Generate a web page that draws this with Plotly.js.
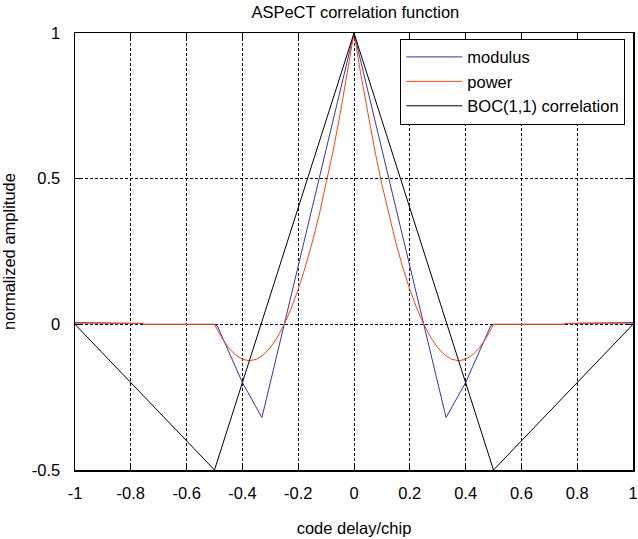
<!DOCTYPE html>
<html>
<head>
<meta charset="utf-8">
<script src="https://cdn.plot.ly/plotly-3.0.1.min.js"></script>
<style>html,body{margin:0;padding:0;background:#fff;}</style>
</head>
<body>
<div id="chart" style="width:638px;height:539px;"></div>
<script>
// ---- data ----
var bocX = [-1, -0.9, -0.8, -0.7, -0.6, -0.5, -0.4, -0.3, -0.2, -0.1, 0, 0.1, 0.2, 0.3, 0.4, 0.5, 0.6, 0.7, 0.8, 0.9, 1];
var bocY = [0, -0.1, -0.2, -0.3, -0.4, -0.5, -0.2, 0.1, 0.4, 0.7, 1, 0.7, 0.4, 0.1, -0.2, -0.5, -0.4, -0.3, -0.2, -0.1, 0];

var modX = [-1, -0.76, -0.75, -0.5, -0.49, -0.4, -0.33, -0.25, 0, 0.25, 0.33, 0.4, 0.49, 0.5, 0.75, 0.76, 1];
var modY = [0.006, 0.003, 0, 0, -0.005, -0.2, -0.32, 0, 1, 0, -0.32, -0.2, -0.005, 0, 0, 0.003, 0.006];

var powX = [-1, -0.76, -0.75, -0.5, -0.475, -0.45, -0.425, -0.4, -0.375, -0.35, -0.325, -0.3, -0.275, -0.25,
            -0.225, -0.2, -0.175, -0.15, -0.125, -0.1, -0.075, -0.05, -0.025, 0,
            0.025, 0.05, 0.075, 0.1, 0.125, 0.15, 0.175, 0.2, 0.225,
            0.25, 0.275, 0.3, 0.325, 0.35, 0.375, 0.4, 0.425, 0.45, 0.475, 0.5, 0.75, 0.76, 1];
var powY = [0.004, 0.003, 0, 0, -0.045, -0.08, -0.105, -0.12, -0.125, -0.12, -0.105, -0.08, -0.045, 0,
            0.055, 0.12, 0.195, 0.28, 0.375, 0.48, 0.595, 0.72, 0.855, 1,
            0.855, 0.72, 0.595, 0.48, 0.375, 0.28, 0.195, 0.12, 0.055,
            0, -0.045, -0.08, -0.105, -0.12, -0.125, -0.12, -0.105, -0.08, -0.045, 0, 0, 0.003, 0.004];

var xTicks = [-1, -0.8, -0.6, -0.4, -0.2, 0, 0.2, 0.4, 0.6, 0.8, 1];
var xTickText = ['-1', '-0.8', '-0.6', '-0.4', '-0.2', '0', '0.2', '0.4', '0.6', '0.8', '1'];
var yTicks = [-0.5, 0, 0.5, 1];
var yTickText = ['-0.5', '0', '0.5', '1'];

var seriesNames = ['modulus', 'power', 'BOC(1,1) correlation'];

// ---- chart ----
var font = {family: 'Liberation Sans, Arial, sans-serif', size: 16.5, color: '#000'};

var traces = [
  {x: modX, y: modY, name: seriesNames[0], mode: 'lines', line: {color: '#3636a6', width: 1}},
  {x: powX, y: powY, name: seriesNames[1], mode: 'lines', line: {color: '#ff4510', width: 1}},
  {x: bocX, y: bocY, name: seriesNames[2], mode: 'lines', line: {color: '#000000', width: 1}}
];

var axisCommon = {
  showline: true, linecolor: '#000', linewidth: 1.5, mirror: 'ticks',
  ticks: 'inside', ticklen: 5, tickcolor: '#000', tickwidth: 1,
  showgrid: true, gridcolor: '#000', griddash: '3px,2px', gridwidth: 1,
  zeroline: false, tickfont: font, ticklabeloverflow: 'allow'
};

var layout = {
  width: 638, height: 539,
  margin: {l: 75, r: 5, t: 33, b: 69},
  paper_bgcolor: '#fff', plot_bgcolor: '#fff',
  font: font,
  title: {text: 'ASPeCT correlation function', font: font, x: 0.557, xanchor: 'center', y: 0.978, yanchor: 'middle'},
  xaxis: Object.assign({}, axisCommon, {
    range: [-1, 1], tickvals: xTicks, ticktext: xTickText, ticklabelstandoff: 8,
    title: {text: 'code delay/chip', font: font, standoff: 21}
  }),
  yaxis: Object.assign({}, axisCommon, {
    range: [-0.5, 1], tickvals: yTicks, ticktext: yTickText, ticklabelstandoff: 10,
    title: {text: 'normalized amplitude', font: font, standoff: 14}
  }),
  showlegend: true,
  legend: {
    x: 0.583, y: 0.987, xanchor: 'left', yanchor: 'top',
    bordercolor: '#000', borderwidth: 1, bgcolor: '#fff',
    font: font, itemwidth: 56, tracegroupgap: 0
  }
};

Plotly.newPlot('chart', traces, layout, {staticPlot: true, displayModeBar: false});
</script>
</body>
</html>
